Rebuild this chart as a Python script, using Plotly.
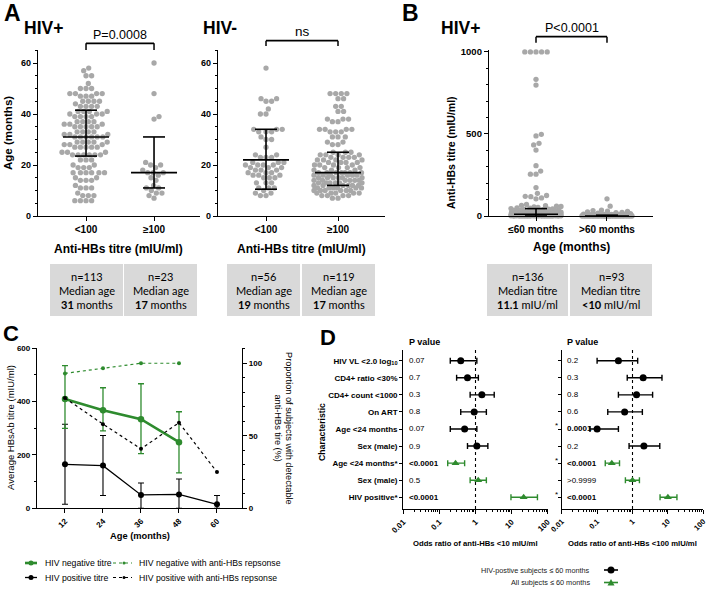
import numpy as np
import plotly.graph_objects as go

W, H = 709, 589
FONT = "Liberation Sans"
TFONT = "Lato"
GRAY = "#a8a8a8"
GREEN = "#2e8b2e"
TABLE_FILL = "#d9d9d9"


def fx(x):
    return x / W


def fy(y):
    return 1 - y / H


# ---------------- Panel A data (age in months) ----------------
A_CATS = ["<100", "\u2265100"]
hivpos_lt100_age = [6, 8, 9, 11, 12, 14, 15, 17, 19, 20, 22, 24, 25, 27, 28, 29, 31, 32, 33, 35,
                    36, 37, 39, 40, 41, 43, 44, 45, 47, 48, 50, 52, 55, 57, 58]
hivpos_lt100_cnt = [4, 3, 1, 3, 1, 3, 2, 6, 3, 2, 3, 6, 3, 5, 3, 5, 6, 3, 4, 5,
                    3, 4, 4, 3, 4, 4, 1, 4, 3, 4, 3, 1, 2, 1, 1]
hivpos_ge100_age = [60, 48, 39, 38, 21, 20, 20, 19, 18, 17, 17, 17, 16, 15, 14, 12, 11, 11, 10, 9, 9, 8, 7]
hivneg_lt100_age = [8, 9, 10, 11, 13, 15, 16, 17, 18, 19, 20, 21, 23, 24, 27, 30, 31, 33, 34, 40, 42, 45, 46, 58]
hivneg_lt100_cnt = [2, 2, 1, 3, 3, 3, 3, 3, 3, 3, 4, 3, 3, 2, 1, 2, 1, 3, 3, 2, 1, 2, 2, 1]
hivneg_ge100_age = [7, 8, 9, 10, 11, 12, 13, 14, 15, 16, 17, 18, 19, 20, 21, 22, 23, 24, 25, 28,
                    29, 31, 33, 34, 37, 38, 41, 43, 46, 48]
hivneg_ge100_cnt = [2, 4, 5, 6, 6, 6, 6, 6, 6, 6, 7, 3, 4, 4, 4, 4, 4, 4, 3, 2,
                    2, 3, 3, 4, 2, 3, 2, 2, 2, 4]
# median / interquartile bars as drawn (HIV+ <100, HIV+ >=100, HIV- <100, HIV- >=100)
A_median = [31, 17, 22, 17]
A_q1 = [23.5, 11, 10.5, 12]
A_q3 = [41.5, 31, 34, 25]
A_n = ["n=113", "n=23", "n=56", "n=119"]
A_med_txt = ["31", "17", "19", "17"]

# ---------------- Panel B data (anti-HBs titre, mIU/ml) ----------------
B_CATS = ["\u226460 months", ">60 months"]
b_le60_vals = [1000, 833, 798, 498, 488, 443, 433, 402, 307, 274, 255, 173, 138, 125, 120, 118, 110, 105,
               70, 65, 63, 60, 58, 55, 52, 50, 48, 45, 44, 42, 40, 38, 36, 35, 34, 32, 30, 29, 28, 27,
               26, 25, 24, 23, 22, 21, 20, 19, 18, 17, 16, 15, 14, 13, 12, 11.5, 11, 10, 9, 8, 7, 6,
               5, 4, 3, 2, 1, 0]
b_le60_cnt = [5, 1, 1, 1, 1, 1, 1, 1, 1, 1, 2, 1, 1, 1, 1, 1, 1, 1,
              1, 1, 1, 1, 1, 1, 1, 1, 1, 1, 1, 1, 1, 1, 1, 1, 1, 1, 1, 1, 1, 1,
              1, 1, 1, 1, 1, 1, 2, 1, 2, 1, 2, 2, 2, 2, 2, 1, 2, 6, 4, 5, 4, 5,
              6, 5, 6, 6, 6, 13]
b_gt60_vals = [105, 60, 36, 33, 30, 28, 25, 22, 20, 18, 15, 12, 10, 8, 6, 5, 4, 3, 2, 1, 0]
b_gt60_cnt = [1, 1, 1, 1, 1, 1, 1, 1, 1, 1, 1, 1, 4, 5, 6, 8, 8, 8, 10, 12, 20]
B_median = [11.1, 0]
B_q1 = [0, 0]
B_q3 = [45, 5]
B_n = ["n=136", "n=93"]
B_med_txt = ["11.1", "<10"]

# ---------------- Panel C data ----------------
c_age = [12, 24, 36, 48, 60]
neg_titre = [410, 368, 334, 248]
neg_titre_hi = [535, 452, 467, 362]
neg_titre_lo = [300, 290, 205, 133]
pos_titre = [165, 160, 50, 52, 15]
pos_titre_hi = [315, 273, 95, 110, 48]
pos_titre_lo = [15, 48, 0, 0, 0]
neg_resp = [93, 96.5, 100, 100]
pos_resp = [76, 58, 41, 59, 25]

# ---------------- Panel D data (odds ratios) ----------------
d_labels = ["HIV VL <2.0 log<sub>10</sub>", "CD4+ ratio <30%", "CD4+ count <1000", "On ART",
            "Age <24 months", "Sex (male)", "Age <24 months*", "Sex (male)", "HIV positive*"]
d10_or = [0.39, 0.6, 1.5, 0.92, 0.5, 1.09, 0.28, 1.19, 21.6]
d10_lo = [0.2, 0.3, 0.71, 0.39, 0.2, 0.6, 0.17, 0.71, 9.6]
d10_hi = [1.09, 1.2, 3.3, 2.0, 1.09, 2.2, 0.5, 2.0, 52]
d10_p = ["0.07", "0.7", "0.3", "0.8", "0.07", "0.9", "<0.0001", "0.5", "<0.0001"]
d100_or = [0.4, 2.0, 1.3, 0.6, 0.1, 2.1, 0.26, 1.0, 10]
d100_lo = [0.1, 0.71, 0.4, 0.2, 0.063, 0.8, 0.17, 0.63, 6]
d100_hi = [1.4, 6.8, 3.7, 1.9, 0.4, 5.9, 0.43, 1.57, 18]
d100_p = ["0.2", "0.3", "0.8", "0.6", "0.0001", "0.2", "<0.0001", ">0.9999", "<0.0001"]
d100_star = [False, False, False, False, True, False, True, False, True]
N_HIVPOS_ROWS = 6


def expand(vals, cnts):
    return [v for v, c in zip(vals, cnts) for _ in range(c)]


def beeswarm(values, ppy, d=5.6, max_half=22.0):
    v = np.asarray(values, float)
    ys = v * ppy
    order = np.argsort(v, kind="stable")
    out = np.zeros(len(v))
    placed = []
    grid = np.arange(-max_half, max_half + 0.01, 0.5)
    for k, i in enumerate(order):
        y = ys[i]
        if not placed:
            out[i] = 0.0
            placed.append((0.0, y))
            continue
        P = np.array(placed)
        dy = P[:, 1] - y
        near = np.abs(dy) < d
        Pn = P[near]
        cands = [0.0]
        for (px_, py_) in Pn:
            dx = np.sqrt(max(d * d - (py_ - y) ** 2, 0))
            cands += [px_ + dx, px_ - dx]
        sgn = 1 if k % 2 else -1
        cands = sorted(cands, key=lambda c: (round(abs(c), 3), sgn * c))
        chosen = None
        for c in cands:
            if abs(c) > max_half:
                break
            if Pn.size == 0 or np.all((Pn[:, 0] - c) ** 2 + (Pn[:, 1] - y) ** 2 >= d * d - 1e-6):
                chosen = c
                break
        if chosen is None:
            dist = np.min((grid[:, None] - Pn[None, :, 0]) ** 2 + (y - Pn[None, :, 1]) ** 2, axis=1)
            best = dist.max()
            ok = grid[dist >= best - 1e-9]
            chosen = ok[np.argmin(np.abs(ok))]
        out[i] = chosen
        placed.append((chosen, y))
    return out


fig = go.Figure()


def swarm(vals, cat, xa, ya, ppx, ppy, max_half):
    offs = beeswarm(vals, ppy, max_half=max_half)
    fig.add_trace(go.Scatter(x=cat + offs / ppx, y=vals, mode="markers",
                             marker=dict(size=5.3, color=GRAY, line=dict(width=0)),
                             xaxis=xa, yaxis=ya, cliponaxis=False, hoverinfo="skip"))


def stats(cat, med, q1, q3, xa, ya, ppx, med_half=23, cap_half=11):
    m = med_half / ppx
    c = cap_half / ppx
    xs = [cat - m, cat + m, None, cat, cat, None, cat - c, cat + c, None, cat - c, cat + c]
    ys = [med, med, None, q1, q3, None, q1, q1, None, q3, q3]
    fig.add_trace(go.Scatter(x=xs, y=ys, mode="lines", line=dict(color="black", width=1.6),
                             xaxis=xa, yaxis=ya, cliponaxis=False, hoverinfo="skip"))


# pixel scales from layout
A_PPY = (216 - 50) / 65.1
A1_PPX, A2_PPX, B_PPX = 68.0, 72.0, 71.0
B_PPY = (216 - 50) / 1012

a_groups = [expand(hivpos_lt100_age, hivpos_lt100_cnt), hivpos_ge100_age,
            expand(hivneg_lt100_age, hivneg_lt100_cnt), expand(hivneg_ge100_age, hivneg_ge100_cnt)]
for gi, vals in enumerate(a_groups):
    xa, ya, ppx = ("x", "y", A1_PPX) if gi < 2 else ("x2", "y2", A2_PPX)
    swarm(vals, gi % 2, xa, ya, ppx, A_PPY, 24)
for gi in range(4):
    xa, ya, ppx = ("x", "y", A1_PPX) if gi < 2 else ("x2", "y2", A2_PPX)
    stats(gi % 2, A_median[gi], A_q1[gi], A_q3[gi], xa, ya, ppx)

b_groups = [expand(b_le60_vals, b_le60_cnt), expand(b_gt60_vals, b_gt60_cnt)]
for gi, vals in enumerate(b_groups):
    swarm(vals, gi, "x3", "y3", B_PPX, B_PPY, 25)
for gi in range(2):
    stats(gi, B_median[gi], B_q1[gi], B_q3[gi], "x3", "y3", B_PPX, 22, 11)

# ---------------- Panel C traces ----------------
fig.add_trace(go.Scatter(x=c_age[:len(pos_titre)], y=pos_titre, mode="lines+markers",
                         line=dict(color="black", width=1.3), marker=dict(size=6, color="black"),
                         error_y=dict(type="data", symmetric=False,
                                      array=[h - m for h, m in zip(pos_titre_hi, pos_titre)],
                                      arrayminus=[m - l for m, l in zip(pos_titre, pos_titre_lo)],
                                      color="black", thickness=1.1, width=3),
                         xaxis="x4", yaxis="y4", cliponaxis=False, hoverinfo="skip"))
fig.add_trace(go.Scatter(x=c_age[:len(neg_titre)], y=neg_titre, mode="lines+markers",
                         line=dict(color=GREEN, width=2.6), marker=dict(size=6.5, color=GREEN),
                         error_y=dict(type="data", symmetric=False,
                                      array=[h - m for h, m in zip(neg_titre_hi, neg_titre)],
                                      arrayminus=[m - l for m, l in zip(neg_titre, neg_titre_lo)],
                                      color=GREEN, thickness=1.3, width=3),
                         xaxis="x4", yaxis="y4", cliponaxis=False, hoverinfo="skip"))
fig.add_trace(go.Scatter(x=c_age[:len(neg_resp)], y=neg_resp, mode="lines+markers",
                         line=dict(color=GREEN, width=1.2, dash="dot"),
                         marker=dict(size=4, color=GREEN),
                         xaxis="x4", yaxis="y5", cliponaxis=False, hoverinfo="skip"))
fig.add_trace(go.Scatter(x=c_age[:len(pos_resp)], y=pos_resp, mode="lines+markers",
                         line=dict(color="black", width=1.2, dash="dot"),
                         marker=dict(size=4, color="black"),
                         xaxis="x4", yaxis="y5", cliponaxis=False, hoverinfo="skip"))

# ---------------- Panel D traces ----------------
rows = list(range(len(d_labels)))
for xa, ya, ors, los, his in [("x5", "y6", d10_or, d10_lo, d10_hi), ("x6", "y7", d100_or, d100_lo, d100_hi)]:
    fig.add_trace(go.Scatter(x=[1, 1], y=[-0.626, 8.685], mode="lines",
                             line=dict(color="black", width=1.1, dash="dot"),
                             xaxis=xa, yaxis=ya, hoverinfo="skip"))
    for sl, col, sym, sz in [(slice(0, N_HIVPOS_ROWS), "black", "circle", 7),
                             (slice(N_HIVPOS_ROWS, None), GREEN, "triangle-up", 7)]:
        o, lo, hi, r = ors[sl], los[sl], his[sl], rows[sl]
        fig.add_trace(go.Scatter(x=o, y=r, mode="markers",
                                 marker=dict(symbol=sym, size=sz, color=col),
                                 error_x=dict(type="data", symmetric=False,
                                              array=[h - m for h, m in zip(hi, o)],
                                              arrayminus=[m - l for m, l in zip(o, lo)],
                                              color=col, thickness=1.4, width=3),
                                 xaxis=xa, yaxis=ya, cliponaxis=False, hoverinfo="skip"))


# ---------------- Axes ----------------
def axis(**kw):
    base = dict(showline=True, linecolor="black", linewidth=1.3, ticks="outside", tickcolor="black",
                tickwidth=1.3, ticklen=4, showgrid=False, zeroline=False, fixedrange=True, automargin=False,
                tickfont=dict(family=FONT, size=9, color="black", weight="bold"))
    base.update(kw)
    return base


def minor(dt):
    return dict(ticks="outside", ticklen=2, dtick=dt, tickcolor="black", tickwidth=1, showgrid=False)


ydomA = [fy(216), fy(50)]
layout = dict(
    width=W, height=H, margin=dict(l=0, r=0, t=0, b=0, autoexpand=False), paper_bgcolor="white",
    plot_bgcolor="white", showlegend=False, font=dict(family=FONT, color="black"),
    xaxis=axis(domain=[fx(38), fx(200)], anchor="y", range=[-0.706, 1.676], tickvals=[0, 1],
               ticktext=A_CATS, tickfont=dict(family=FONT, size=10, color="black", weight="bold")),
    yaxis=axis(domain=ydomA, anchor="x", range=[0, 65.1], tickvals=[0, 20, 40, 60], minor=minor(5)),
    xaxis2=axis(domain=[fx(218), fx(385)], anchor="y2", range=[-0.667, 1.653], tickvals=[0, 1],
                ticktext=A_CATS, tickfont=dict(family=FONT, size=10, color="black", weight="bold")),
    yaxis2=axis(domain=ydomA, anchor="x2", range=[0, 65.1], tickvals=[0, 20, 40, 60], minor=minor(5)),
    xaxis3=axis(domain=[fx(489), fx(653)], anchor="y3", range=[-0.662, 1.648], tickvals=[0, 1],
                ticktext=B_CATS, tickfont=dict(family=FONT, size=10, color="black", weight="bold")),
    yaxis3=axis(domain=ydomA, anchor="x3", range=[0, 1012], tickvals=[0, 500, 1000], minor=minor(100),
                tickfont=dict(family=FONT, size=9.5, color="black", weight="bold")),
    xaxis4=axis(domain=[fx(37), fx(242)], anchor="y4", range=[3.16, 67.9], tickvals=c_age, tickangle=-45,
                tickfont=dict(family=FONT, size=8, color="black", weight="bold")),
    yaxis4=axis(domain=[fy(508.3), fy(348)], anchor="x4", range=[0, 601], tickvals=[0, 200, 400, 600],
                minor=minor(100), tickfont=dict(family=FONT, size=8, color="black", weight="bold")),
    yaxis5=axis(overlaying="y4", side="right", anchor="x4", range=[0, 110.5], tickvals=[0, 50, 100],
                minor=minor(10), tickfont=dict(family=FONT, size=8, color="black", weight="bold")),
    xaxis5=axis(domain=[fx(403.3), fx(547.7)], anchor="y6", type="log", range=[-2, 2],
                tickvals=[0.01, 0.1, 1, 10, 100], ticktext=["0.01", "0.1", "1", "10", "100"], tickangle=-45,
                minor=dict(ticks="outside", ticklen=2, tickcolor="black", tickwidth=1, dtick="D1"),
                tickfont=dict(family=FONT, size=8, color="black", weight="bold")),
    yaxis6=axis(domain=[fy(509), fy(350)], anchor="x5", range=[8.685, -0.626], tickvals=rows,
                ticktext=d_labels, ticklen=3, tickfont=dict(family=FONT, size=8, color="black", weight="bold")),
    xaxis6=axis(domain=[fx(561.7), fx(703.3)], anchor="y7", type="log", range=[-2, 2],
                tickvals=[0.01, 0.1, 1, 10, 100], ticktext=["0.01", "0.1", "1", "10", "100"], tickangle=-45,
                minor=dict(ticks="outside", ticklen=2, tickcolor="black", tickwidth=1, dtick="D1"),
                tickfont=dict(family=FONT, size=7.5, color="black", weight="bold")),
    yaxis7=axis(domain=[fy(509), fy(350)], anchor="x6", range=[8.685, -0.626], tickvals=rows,
                ticklen=3, showticklabels=False),
)

ann = []
shapes = []


def T(x, y, text, size, bold=False, xa="center", ya="middle", angle=0, family=FONT, color="black",
      xref="paper", yref="paper"):
    ann.append(dict(x=fx(x) if xref == "paper" else x, y=fy(y) if yref == "paper" else y,
                    xref=xref, yref=yref, text=text, showarrow=False, xanchor=xa, yanchor=ya,
                    textangle=angle,
                    font=dict(family=family, size=size, color=color, weight="bold" if bold else "normal")))


def hline(x0, x1, y, xref="paper", color="black", width=1.5, dash="solid"):
    shapes.append(dict(type="line", xref=xref, yref="paper",
                       x0=fx(x0) if xref == "paper" else x0, x1=fx(x1) if xref == "paper" else x1,
                       y0=fy(y), y1=fy(y), line=dict(color=color, width=width, dash=dash)))


def vline(x, y0, y1, xref="paper"):
    shapes.append(dict(type="line", xref=xref, yref="paper", x0=x, x1=x, y0=fy(y0), y1=fy(y1),
                       line=dict(color="black", width=1.5)))


def rect(x0, y0, x1, y1, fill):
    shapes.append(dict(type="rect", xref="paper", yref="paper", x0=fx(x0), x1=fx(x1), y0=fy(y1), y1=fy(y0),
                       fillcolor=fill, line=dict(width=0), layer="below"))


# panel letters and titles
T(2, 13, "A", 23, True, xa="left")
T(43, 28, "HIV+", 17.5, True)
T(220, 28, "HIV-", 17.5, True)
T(400, 13, "B", 23, True, xa="left")
T(460, 28, "HIV+", 17.5, True)
T(1, 333, "C", 22, True, xa="left")
T(318, 337, "D", 22, True, xa="left")

# brackets
for xref, ytop, ybot, lab, ylab, sz in [("x", 43.3, 50, "P=0.0008", 35, 12.5),
                                       ("x2", 40.7, 46, "ns", 31.5, 13.5),
                                       ("x3", 36.7, 42.7, "P<0.0001", 28, 12.5)]:
    hline(0, 1, ytop, xref=xref, width=1.8)
    vline(0, ytop, ybot, xref=xref)
    vline(1, ytop, ybot, xref=xref)
    ann.append(dict(x=0.5, y=fy(ylab), xref=xref, yref="paper", text=lab, showarrow=False,
                    xanchor="center", yanchor="middle",
                    font=dict(family=FONT, size=sz, color="black")))

# axis titles A/B
T(119, 249, "Anti-HBs titre (mIU/ml)", 12, True)
T(301.5, 249, "Anti-HBs titre (mIU/ml)", 12, True)
T(8, 133, "Age (months)", 11.5, True, angle=-90)
T(571, 247, "Age (months)", 12, True)
T(451, 153, "Anti-HBs titre (mIU/ml)", 10.5, True, angle=-90)

# tables
tables = [((50, 123), A_n[0], "Median age", A_med_txt[0], "months"),
          ((124, 197), A_n[1], "Median age", A_med_txt[1], "months"),
          ((227, 300), A_n[2], "Median age", A_med_txt[2], "months"),
          ((302, 375), A_n[3], "Median age", A_med_txt[3], "months"),
          ((487, 568), B_n[0], "Median titre", B_med_txt[0], "mIU/ml"),
          ((570, 652), B_n[1], "Median titre", B_med_txt[1], "mIU/ml")]
for (x0, x1), n, l2, bold_part, unit in tables:
    rect(x0, 264, x1, 316, TABLE_FILL)
    xc = (x0 + x1) / 2
    T(xc, 276, n, 11, family=TFONT)
    T(xc, 290, l2, 11, family=TFONT)
    T(xc, 304, "<b>" + bold_part + "</b> " + unit, 11, family=TFONT)

# panel C titles
T(140, 536, "Age (months)", 9.3, True)
T(10, 428, "Average HBsAb titre (mIU/ml)", 9.5, angle=-90)
T(289, 428, "Proportion of subjects with detectable", 9.2, angle=90)
T(277.5, 428, "anti-HBs tire (%)", 9.2, angle=90)

# panel C legend
hline(25, 37, 563, color=GREEN, width=2.6)
shapes.append(dict(type="circle", xref="paper", yref="paper", x0=fx(28.5), x1=fx(33.5), y0=fy(565.5),
                   y1=fy(560.5), fillcolor=GREEN, line=dict(width=0)))
T(43, 563, "HIV negative titre", 8.7, xa="left")
hline(113, 132, 563, color=GREEN, width=1.2, dash="dot")
shapes.append(dict(type="circle", xref="paper", yref="paper", x0=fx(122.5), x1=fx(125.5), y0=fy(564.5),
                   y1=fy(561.5), fillcolor=GREEN, line=dict(width=0)))
T(137, 563, "HIV negative with anti-HBs repsonse", 8.7, xa="left")
hline(25, 37, 577.5, color="black", width=1.3)
shapes.append(dict(type="circle", xref="paper", yref="paper", x0=fx(28.5), x1=fx(33.5), y0=fy(580),
                   y1=fy(575), fillcolor="black", line=dict(width=0)))
T(43, 577.5, "HIV positive titre", 8.7, xa="left")
hline(113, 132, 577.5, color="black", width=1.2, dash="dot")
shapes.append(dict(type="circle", xref="paper", yref="paper", x0=fx(122.5), x1=fx(125.5), y0=fy(579),
                   y1=fy(576), fillcolor="black", line=dict(width=0)))
T(137, 577.5, "HIV positive with anti-HBs repsonse", 8.7, xa="left")

# panel D texts
T(322, 432, "Characteristic", 8.7, True, angle=-90)
T(407, 342, "P value", 9, True, xa="left")
T(565, 342, "P value", 9, True, xa="left")
for i in rows:
    b = "0001" in d10_p[i]
    ann.append(dict(x=fx(407), y=i, xref="paper", yref="y6", text=d10_p[i], showarrow=False, xanchor="left",
                    yanchor="middle",
                    font=dict(family=FONT, size=8, color="black", weight="bold" if b else "normal")))
    b = "0001" in d100_p[i] and not d100_p[i].startswith(">")
    ann.append(dict(x=fx(564.5), y=i, xref="paper", yref="y7", text=d100_p[i], showarrow=False, xanchor="left",
                    yanchor="middle",
                    font=dict(family=FONT, size=8, color="black", weight="bold" if b else "normal")))
    if d100_star[i]:
        ann.append(dict(x=fx(556), y=i, xref="paper", yref="y7", text="*", showarrow=False, yshift=3,
                        xanchor="center", yanchor="middle",
                        font=dict(family=FONT, size=8, color="black")))
T(475.5, 543, "Odds ratio of anti-HBs <10 mIU/ml", 7.7, True)
T(632.5, 543, "Odds ratio of anti-HBs <100 mIU/ml", 7.7, True)

# panel D legend
T(592, 570, "HIV-postive subjects \u2264 60 months", 7.3, xa="right", color="#222222")
T(592, 582.5, "All subjects \u2264 60 months", 7.3, xa="right", color="#222222")
hline(604, 618, 570, color="black", width=1.6)
shapes.append(dict(type="circle", xref="paper", yref="paper", x0=fx(607.5), x1=fx(614.5), y0=fy(573.5),
                   y1=fy(566.5), fillcolor="black", line=dict(width=0)))
hline(604, 618, 582.5, color=GREEN, width=1.6)
shapes.append(dict(type="path", xref="paper", yref="paper",
                   path="M {} {} L {} {} L {} {} Z".format(fx(607.5), fy(585.5), fx(614.5), fy(585.5),
                                                           fx(611), fy(579)),
                   fillcolor=GREEN, line=dict(width=0)))

layout["annotations"] = ann
layout["shapes"] = shapes
fig.update_layout(**layout)
fig.write_html("out.html", config={"displayModeBar": False},
               post_script="document.body.style.margin='0';document.body.style.padding='0';")
